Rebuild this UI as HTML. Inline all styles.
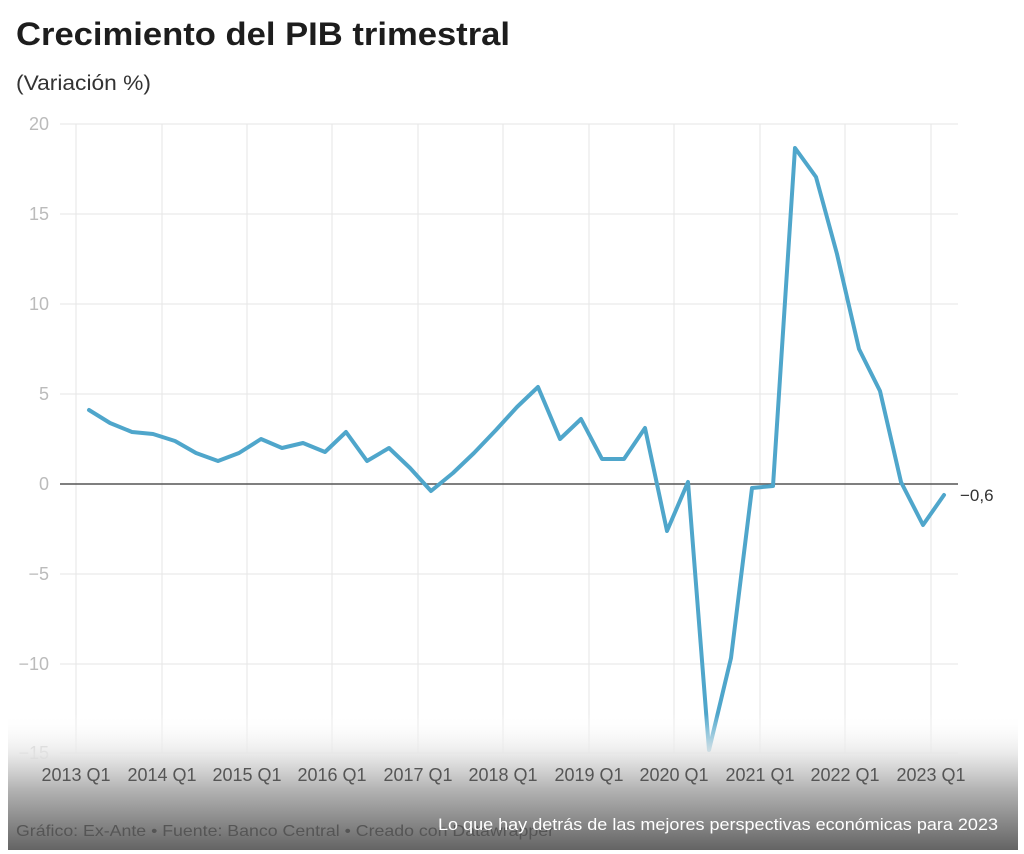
<!DOCTYPE html>
<html><head><meta charset="utf-8"><style>
html,body{margin:0;padding:0;background:#fff;}
svg{display:block;font-family:"Liberation Sans",sans-serif;}
</style></head><body>
<svg width="1024" height="854" viewBox="0 0 1024 854">
<defs>
<linearGradient id="g" x1="0" y1="0" x2="0" y2="1">
<stop offset="0" stop-color="#fff" stop-opacity="0"/>
<stop offset="0.3" stop-color="#e6e6e6" stop-opacity="0.9"/>
<stop offset="0.55" stop-color="#b4b4b4" stop-opacity="1"/>
<stop offset="1" stop-color="#646464" stop-opacity="1"/>
</linearGradient>
</defs>
<text x="16" y="45" font-size="32" font-weight="bold" fill="#1d1d1d" textLength="494" lengthAdjust="spacingAndGlyphs">Crecimiento del PIB trimestral</text>
<text x="16" y="90" font-size="21" fill="#333" textLength="135" lengthAdjust="spacingAndGlyphs">(Variación %)</text>
<g stroke="#e6e6e6" stroke-width="1">
<line x1="60" y1="124" x2="958" y2="124"/>
<line x1="60" y1="214" x2="958" y2="214"/>
<line x1="60" y1="304" x2="958" y2="304"/>
<line x1="60" y1="394" x2="958" y2="394"/>
<line x1="60" y1="574" x2="958" y2="574"/>
<line x1="60" y1="664" x2="958" y2="664"/>
<line x1="60" y1="753" x2="958" y2="753"/>
<line x1="76" y1="124" x2="76" y2="753"/>
<line x1="162" y1="124" x2="162" y2="753"/>
<line x1="247" y1="124" x2="247" y2="753"/>
<line x1="332" y1="124" x2="332" y2="753"/>
<line x1="418" y1="124" x2="418" y2="753"/>
<line x1="503" y1="124" x2="503" y2="753"/>
<line x1="589" y1="124" x2="589" y2="753"/>
<line x1="674" y1="124" x2="674" y2="753"/>
<line x1="760" y1="124" x2="760" y2="753"/>
<line x1="845" y1="124" x2="845" y2="753"/>
<line x1="931" y1="124" x2="931" y2="753"/>
</g>
<g font-size="18" fill="#bbb" text-anchor="end">
<text x="49" y="130">20</text>
<text x="49" y="220">15</text>
<text x="49" y="310">10</text>
<text x="49" y="400">5</text>
<text x="49" y="490">0</text>
<text x="49" y="580">−5</text>
<text x="49" y="670">−10</text>
<text x="49" y="759">−15</text>
</g>
<line x1="60" y1="484" x2="958" y2="484" stroke="#555" stroke-width="1.5"/>
<polyline fill="none" stroke="#4fa6cb" stroke-width="4" stroke-linejoin="round" stroke-linecap="round" points="89,410 110,423 132,432 153,434 175,441 196,453 218,461 239,453 261,439 282,448 303,443 325,452 346,432 367,461 389,448 410,468 431,491 453,473 474,453 496,430 517,407 538,387 560,439 581,419 602,459 624,459 645,428 667,531 688,482 709,750 731,658 752,488 773,486 795,148 816,177 837,254 859,349 880,391 901,482 923,525 944,495"/>
<text x="960" y="501" font-size="17" fill="#333">−0,6</text>
<rect x="8" y="714" width="1010" height="136" fill="url(#g)"/>
<g font-size="18" fill="#555" text-anchor="middle">
<text x="76" y="781">2013 Q1</text>
<text x="162" y="781">2014 Q1</text>
<text x="247" y="781">2015 Q1</text>
<text x="332" y="781">2016 Q1</text>
<text x="418" y="781">2017 Q1</text>
<text x="503" y="781">2018 Q1</text>
<text x="589" y="781">2019 Q1</text>
<text x="674" y="781">2020 Q1</text>
<text x="760" y="781">2021 Q1</text>
<text x="845" y="781">2022 Q1</text>
<text x="931" y="781">2023 Q1</text>
</g>
<text x="16" y="836" font-size="16" fill="#555" textLength="538" lengthAdjust="spacingAndGlyphs">Gráfico: Ex-Ante • Fuente: Banco Central • Creado con Datawrapper</text>
<text x="438" y="830" font-size="17" fill="#fff" textLength="560" lengthAdjust="spacingAndGlyphs">Lo que hay detrás de las mejores perspectivas económicas para 2023</text>
</svg>
</body></html>
